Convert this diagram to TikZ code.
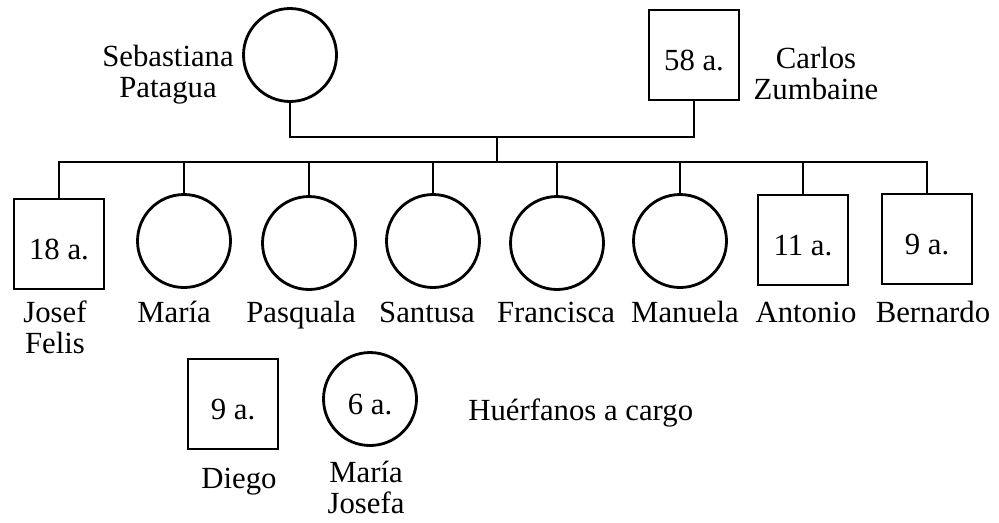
\documentclass[tikz,border=0pt]{standalone}
\usepackage{fontspec}
\setmainfont{Liberation Serif}
\usetikzlibrary{calc, positioning}
\tikzset{
  font=\fontsize{17.5}{17.6}\selectfont,
  % Person in the tree
  person/.style={draw, fill=white, line width=1.6pt, inner sep=0pt,
    text height=0.6cm, text depth=0pt},
  % Woman
  fem/.style={person, shape=circle, minimum size=1.86cm},
  % Man
  male/.style={person, shape=rectangle, minimum size=1.8cm},
  % Name under or beside a person (base = last line)
  pname/.style={align=center, inner sep=0pt, anchor=base},
  % Family lines
  kin/.style={line width=1.6pt},
}

\begin{document}
\begin{tikzpicture}[x=0.02cm, y=-0.02cm]
  \useasboundingbox (0,0) rectangle (999,522);

  % parents
  \node[fem] (seb) at (290,55) {};
  \node[male] (carlos) at (694,55) {58 a.};
  \node[pname] (sebname) at (168,97) {Sebastiana\\Patagua};
  \node[pname] (carlosname) at (816,99) {Carlos\\Zumbaine};

  % children
  \node[male] (josef) at (59,244) {18 a.};
  \node[fem] (maria) at (184,241) {};
  \node[fem] (pasquala) at (309,243) {};
  \node[fem] (santusa) at (433,241) {};
  \node[fem] (francisca) at (557,243) {};
  \node[fem] (manuela) at (680,241) {};
  \node[male] (antonio) at (803,240) {11 a.};
  \node[male] (bernardo) at (927,239) {9 a.};

  \node[pname] (josefname) at (55,353) {Josef\\Felis};
  \node[pname] (marianame) at (174,322) {María};
  \node[pname] (pasqualaname) at (301,322) {Pasquala};
  \node[pname] (santusaname) at (427,322) {Santusa};
  \node[pname] (franciscaname) at (556,322) {Francisca};
  \node[pname] (manuelaname) at (685,322) {Manuela};
  \node[pname] (antonioname) at (806,322) {Antonio};
  \node[pname] (bernardoname) at (933,322) {Bernardo};

  % orphans
  \node[male] (diego) at (233,404) {9 a.};
  \node[fem] (mjosefa) at (370,399) {6 a.};
  \node[pname] (diegoname) at (239,488) {Diego};
  \node[pname] (mjosefaname) at (366,513) {María\\Josefa};
  \node[pname, anchor=base west] (orphans) at (468,420) {Huérfanos a cargo};

  % lines
  \coordinate (union) at (497,137);
  \coordinate (sibs) at (497,162);
  \draw[kin] (seb) |- (union) -| (carlos);
  \draw[kin] (union) -- (sibs);
  \draw[kin] (josef) |- (sibs) -| (bernardo);
  \draw[kin] (maria) -- (maria |- sibs);
  \draw[kin] (pasquala) -- (pasquala |- sibs);
  \draw[kin] (santusa) -- (santusa |- sibs);
  \draw[kin] (francisca) -- (francisca |- sibs);
  \draw[kin] (manuela) -- (manuela |- sibs);
  \draw[kin] (antonio) -- (antonio |- sibs);
\end{tikzpicture}
\end{document}
